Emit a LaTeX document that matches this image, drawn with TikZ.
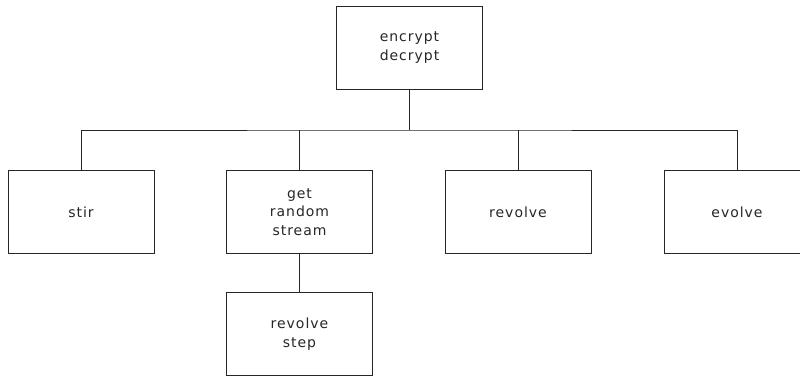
\documentclass[tikz,border=0pt]{standalone}
\usepackage{fontspec}
\setmainfont[LetterSpace=7]{DejaVu Sans}
\begin{document}
\begin{tikzpicture}[x=1pt,y=-1pt,
  module/.style={draw=black!85, line width=1pt, minimum width=146pt, minimum height=83pt,
    inner sep=0pt, align=center, font=\fontsize{14}{18.5}\selectfont, text=black!85},
  link/.style={draw=black!85, line width=1pt}]
\useasboundingbox (0,0) rectangle (800,378);
\node[module] (top) at (409.5,47.5) {encrypt\\decrypt};
\node[module] (stir) at (81,212) {stir};
\node[module] (grs) at (299.5,212) {get\\random\\stream};
\node[module] (rev) at (518,212) {revolve};
\node[module] (evo) at (737,212) {evolve};
\node[module] (rstep) at (299.5,334) {revolve\\step};
\coordinate (bus) at (409.5,130);
\draw[link] (top.south) -- (bus);
\draw[link] (stir.north) |- (bus) -| (evo.north);
\draw[link] (grs.north) -- (grs.north |- bus);
\draw[link] (rev.north) -- (rev.north |- bus);
\draw[link] (grs.south) -- (rstep.north);
\end{tikzpicture}
\end{document}
